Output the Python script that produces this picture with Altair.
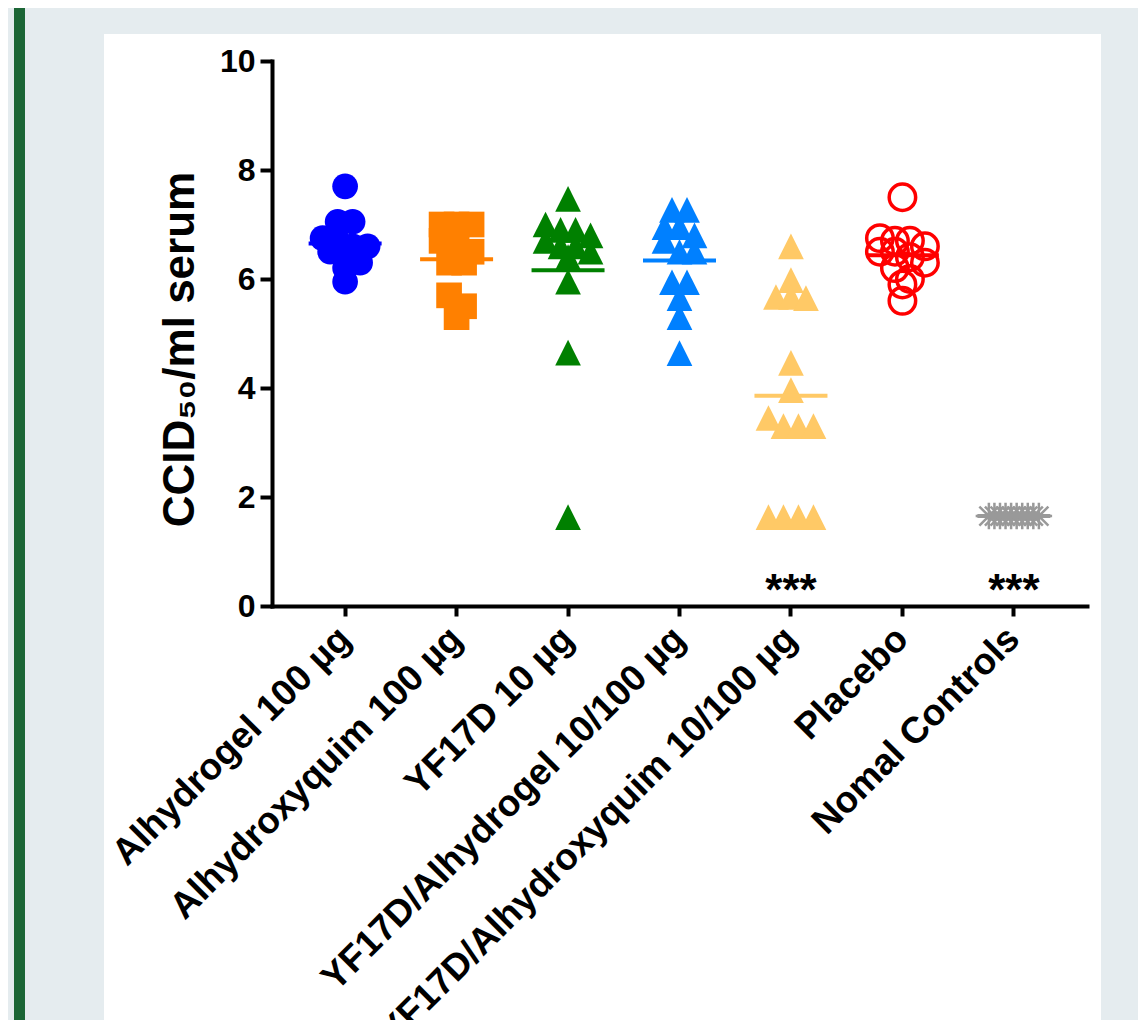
import altair as alt
import pandas as pd

# ---------------- data ----------------
groups = [
    "Alhydrogel 100 µg",
    "Alhydroxyquim 100 µg",
    "YF17D 10 µg",
    "YF17D/Alhydrogel 10/100 µg",
    "YF17D/Alhydroxyquim 10/100 µg",
    "Placebo",
    "Nomal Controls",
]

alhydrogel = [7.7, 7.05, 7.05, 6.75, 6.7, 6.6, 6.6, 6.5, 6.4, 6.3, 6.2, 5.95]
alhydroxyquim = [7.0, 7.0, 7.0, 6.7, 6.7, 6.5, 6.3, 6.3, 5.7, 5.5, 5.3]
yf17d = [7.47, 7.0, 6.9, 6.9, 6.8, 6.7, 6.6, 6.6, 6.5, 6.4, 5.95, 4.65, 1.63]
yf_alhydrogel = [7.27, 7.27, 6.95, 6.95, 6.8, 6.7, 6.5, 6.5, 5.94, 5.94, 5.65, 5.30, 4.64]
yf_alhydroxyquim = [6.6, 5.98, 5.67, 5.67, 5.65, 4.46, 3.96, 3.45, 3.3, 3.3, 3.3,
                    1.63, 1.63, 1.63, 1.63]
placebo = [7.5, 6.75, 6.7, 6.7, 6.6, 6.5, 6.5, 6.4, 6.3, 6.2, 6.0, 5.9, 5.6]
normal_controls = [1.65, 1.65, 1.65, 1.65, 1.65, 1.65, 1.65, 1.65, 1.65, 1.65]

series = [alhydrogel, alhydroxyquim, yf17d, yf_alhydrogel,
          yf_alhydroxyquim, placebo, normal_controls]

colors = ["#0000ff", "#ff8000", "#008000", "#0080ff", "#ffc966", "#ff0000", "#999999"]

TRI = "M0,-1L1,1L-1,1Z"
AST = "M-1,0L1,0M0,-1L0,1M-0.72,-0.72L0.72,0.72M-0.72,0.72L0.72,-0.72"
shapes = ["circle", "square", TRI, TRI, TRI, "circle", AST]
open_groups = ["Placebo", "Nomal Controls"]

sig_groups = ["YF17D/Alhydroxyquim 10/100 µg", "Nomal Controls"]
sig_labels = ["***", "***"]
sig_pos = [0, 0]

y_title = "CCID₅₀/ml serum"
y_ticks = [0, 2, 4, 6, 8, 10]

# ---------------- layout helpers ----------------
W, H = 815, 545
PAD_OUTER = 0.156
STEP = W / (len(groups) + 2 * PAD_OUTER)
HALF = STEP / 2


def swarm(vals, t=0.25, s=15.0, maxw=50.0):
    """Column-scatter arrangement: near-equal values are spread side by side."""
    order = sorted(range(len(vals)), key=lambda i: -vals[i])
    offs = [0.0] * len(vals)
    rows = []
    for i in order:
        if rows and vals[rows[-1][0]] - vals[i] < t:
            rows[-1].append(i)
        else:
            rows.append([i])
    for row in rows:
        n = len(row)
        sp = min(s, maxw / (n - 1)) if n > 1 else 0.0
        for k, i in enumerate(row):
            offs[i] = (k - (n - 1) / 2) * sp
    return offs


recs = []
for g, vals in zip(groups, series):
    for v, o in zip(vals, swarm(vals)):
        recs.append({"group": g, "value": v, "off": o})
df = pd.DataFrame(recs)

sig_df = pd.DataFrame({"group": sig_groups, "label": sig_labels, "pos": sig_pos})

FONT = "Liberation Sans"

x_axis = alt.Axis(
    title=None, zindex=1, grid=False,
    domainColor="black", domainWidth=4, domainCap="square",
    tickColor="black", tickWidth=4, tickSize=10,
    labelAngle=-45, labelAlign="right", labelBaseline="middle",
    labelFont=FONT, labelFontWeight="bold", labelFontSize=37, labelColor="black",
    labelPadding=17, labelLimit=1000,
)
y_axis = alt.Axis(
    title=y_title, zindex=1, grid=False, values=y_ticks,
    domainColor="black", domainWidth=4, domainCap="square",
    tickColor="black", tickWidth=4, tickSize=12,
    labelFont=FONT, labelFontWeight="bold", labelFontSize=32, labelColor="black",
    labelPadding=5,
    titleFont=FONT, titleFontWeight="bold", titleFontSize=44, titleColor="black",
    titleAngle=-90, titleX=-79, titleY=288, titleAlign="center", titleBaseline="alphabetic",
)

xscale = alt.Scale(type="band", domain=groups, paddingInner=0, paddingOuter=PAD_OUTER)
yscale = alt.Scale(domain=[0, 10], nice=False)
xenc = alt.X("group:N", scale=xscale, axis=x_axis)
color = alt.Color("group:N", scale=alt.Scale(domain=groups, range=colors), legend=None)
shape = alt.Shape("group:N", scale=alt.Scale(domain=groups, range=shapes), legend=None)
xoff = alt.XOffset("off:Q", scale=alt.Scale(domain=[-HALF, HALF]))


def yenc(field):
    return alt.Y(field, scale=yscale, axis=y_axis)


# decorative page panel (white card + green bar)
deco = pd.DataFrame({"k": [0]})
panel = alt.Chart(deco).mark_rect(color="white").encode(
    x=alt.value(-168), x2=alt.value(829), y=alt.value(-27), y2=alt.value(1000))
bar = alt.Chart(deco).mark_rect(color="#1c6636").encode(
    x=alt.value(-258), x2=alt.value(-247), y=alt.value(-70), y2=alt.value(1000))

filled = alt.Chart(df).transform_filter(
    ~alt.FieldOneOfPredicate(field="group", oneOf=open_groups)
).mark_point(filled=True, size=660, opacity=1).encode(
    x=xenc, xOffset=xoff, y=yenc("value:Q"), color=color, shape=shape,
)

placebo_layer = alt.Chart(df).transform_filter(
    alt.FieldEqualPredicate(field="group", equal="Placebo")
).mark_point(filled=False, size=700, strokeWidth=3.5, opacity=1).encode(
    x=xenc, xOffset=xoff, y=yenc("value:Q"), color=color, shape=shape,
)

controls_layer = alt.Chart(df).transform_filter(
    alt.FieldEqualPredicate(field="group", equal="Nomal Controls")
).mark_point(filled=False, size=700, strokeWidth=2.5, opacity=1).encode(
    x=xenc, xOffset=xoff, y=yenc("value:Q"), color=color, shape=shape,
)

means = alt.Chart(df).mark_tick(thickness=4, size=73, opacity=1).encode(
    x=xenc, y=yenc("mean(value):Q"), color=color,
)

stars = alt.Chart(sig_df).mark_text(
    font=FONT, fontWeight="bold", fontSize=44, baseline="alphabetic", color="black", dy=-1
).encode(
    x=xenc, y=yenc("pos:Q"), text="label:N",
)

chart = alt.layer(panel, bar, filled, placebo_layer, controls_layer, means, stars).properties(
    width=W, height=H,
    autosize=alt.AutoSizeParams(type="none"),
    padding={"left": 264, "top": 53, "right": 51, "bottom": 414},
    background="#e5ecef",
).configure_view(stroke=None)

chart.save("out.html", embed_options={"renderer": "svg", "actions": False})
